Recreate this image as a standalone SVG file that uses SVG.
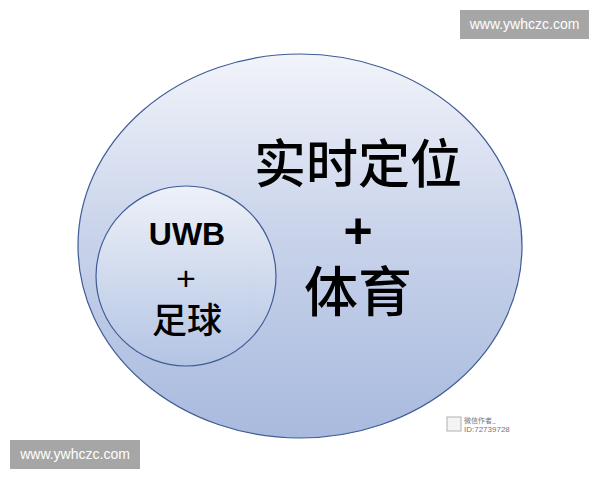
<svg xmlns="http://www.w3.org/2000/svg" width="600" height="480" viewBox="0 0 600 480">
<defs>
<linearGradient id="gBig" x1="0" y1="0" x2="0" y2="1">
<stop offset="0" stop-color="#f2f4fa"/>
<stop offset="0.45" stop-color="#cad4eb"/>
<stop offset="1" stop-color="#a8bade"/>
</linearGradient>
<linearGradient id="gSmall" x1="0" y1="0" x2="0" y2="1">
<stop offset="0" stop-color="#eef1f8"/>
<stop offset="1" stop-color="#b3c4e4"/>
</linearGradient>
<style>
.edge{stroke:#3f5c96;stroke-width:1.2}
.cjk{font-family:"Noto Sans CJK SC","Liberation Sans",sans-serif;fill:#000;text-anchor:middle;font-weight:500}
.lat{font-family:"Liberation Sans","Noto Sans CJK SC",sans-serif;fill:#000;text-anchor:middle}
.wm{fill:#a6a6a6}
.wmt{font-family:"Liberation Sans",sans-serif;font-size:14px;fill:#ffffff;text-anchor:middle}
</style>
</defs>
<rect width="600" height="480" fill="#ffffff"/>
<g id="outer">
<ellipse cx="300" cy="246" rx="222" ry="192" fill="url(#gBig)" class="edge"/>
<text class="cjk" x="358" y="183" font-size="52">实时定位</text>
<text class="lat" x="358" y="248" font-size="50" font-weight="bold">+</text>
<text class="cjk" x="358" y="312" font-size="54">体育</text>
</g>
<g id="inner">
<circle cx="186" cy="276" r="90" fill="url(#gSmall)" class="edge"/>
<text class="lat" x="187" y="245" font-size="32" font-weight="bold">UWB</text>
<text class="lat" x="186" y="290" font-size="34">+</text>
<text class="cjk" x="187" y="333" font-size="35">足球</text>
</g>
<g id="connectors"></g>
<g id="watermark-top">
<rect class="wm" x="460" y="10" width="129" height="29"/>
<text class="wmt" x="524.5" y="29">www.ywhczc.com</text>
</g>
<g id="watermark-bottom">
<rect class="wm" x="10" y="440" width="130" height="29"/>
<text class="wmt" x="75" y="459">www.ywhczc.com</text>
</g>
<g id="badge">
<rect x="447" y="417" width="14" height="14" fill="#f4f4f4" stroke="#b0b0b0" stroke-width="1"/>
<text x="464" y="423" font-family="Noto Sans CJK SC,sans-serif" font-size="7" fill="#777">微信作者_</text>
<text x="464" y="432" font-family="Liberation Sans,sans-serif" font-size="8" fill="#777">ID:72739728</text>
</g>
</svg>
